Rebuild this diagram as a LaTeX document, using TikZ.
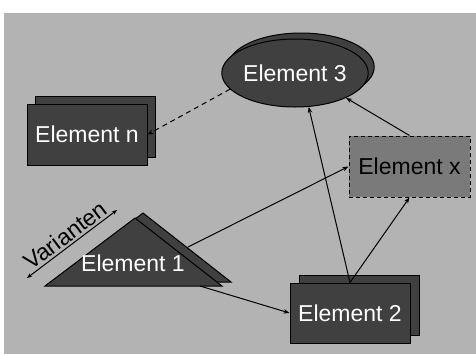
\documentclass[tikz,border=0pt]{standalone}
\usepackage{fontspec}
\setmainfont{Liberation Sans}
\usetikzlibrary{shapes.geometric,shadows,arrows.meta}

\definecolor{bggray}{HTML}{B3B3B3}
\definecolor{elemdark}{HTML}{404040}
\definecolor{elemmid}{HTML}{7A7A7A}

\tikzset{
  elemfont/.style={font=\fontsize{23}{27}\selectfont},
  elem/.style={draw=black, fill=elemdark, text=white, line width=1pt, elemfont, inner sep=0pt},
  elembox/.style={elem, rectangle, minimum width=120pt, minimum height=61pt},
  elemshadow/.style 2 args={copy shadow={shadow xshift=#1, shadow yshift=#2, fill=elemdark, draw=black, line width=1pt}},
  link/.style={line width=1pt, -{Stealth[length=6pt,width=4.5pt]}},
}

\begin{document}
\begin{tikzpicture}[x=1pt,y=-1pt]
        \fill[white] (0,0) rectangle (476,354);
        \fill[bggray] (4,13) rectangle (476,354);
        % elements
        \draw (295,73) node[elem,ellipse,minimum width=146pt,minimum height=68pt,elemshadow={6pt}{6pt}](e3) {Element 3};
        \draw (87,134.5) node[elembox,elemshadow={8pt}{8pt}](en) {Element n};
        \draw (350,313) node[elembox,minimum height=60pt,elemshadow={9pt}{8pt}](e2) {Element 2};
        \draw (409.5,166.5) node[elembox,fill=elemmid,text=black,dash pattern=on 4pt off 3pt,minimum width=121pt](ex) {Element x};
        \draw[line width=1pt,fill=elemdark] (143,213) -- (231,282) -- (53,282) -- cycle;
        \draw[line width=1pt,fill=elemdark] (135,218) -- (222,286) -- (45,286) -- cycle;
        \draw (133,263) node[text=white,elemfont,inner sep=0pt](e1) {Element 1};
        \coordinate (e1r) at (188,247);
        \coordinate (e1b) at (200,286);
        % connectors
        \draw[link,dash pattern=on 5pt off 4pt] (e3.194) -- (en.east);
        \draw[link] (e2.north) -- (e3.292);
        \draw[link] (ex.north) -- (e3.334);
        \draw[link] (e2.north) -- (ex.south);
        \draw[link] (e1r) -- (ex.west);
        \draw[link] (e1b) -- (e2.west);
        % variants
        \coordinate (va) at (27,278);
        \coordinate (vb) at (117,210);
        \draw[line width=1pt,{Stealth[length=5pt,width=4pt]}-{Stealth[length=5pt,width=4pt]}] (va) -- node[midway,above,sloped,elemfont,inner sep=2pt](var) {Varianten} (vb);
\end{tikzpicture}
\end{document}
